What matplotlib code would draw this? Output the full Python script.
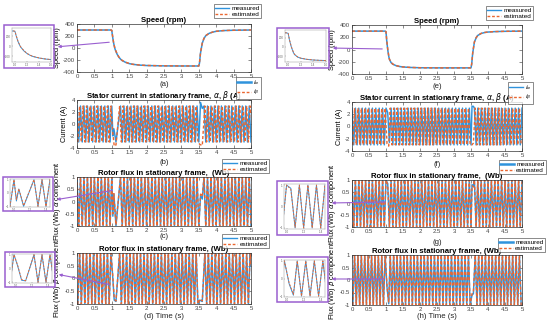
import matplotlib
matplotlib.use('Agg')
import matplotlib.pyplot as plt
from matplotlib.patches import Rectangle, FancyArrowPatch
from matplotlib.lines import Line2D

plt.rcParams['font.family'] = ['Liberation Sans', 'DejaVu Sans']
plt.rcParams['mathtext.fontset'] = 'dejavusans'

# ---------------- data ----------------
# speed, left column (a)
t_spd_L = [0, 0.5, 0.98, 1.0, 1.02, 1.05, 1.08, 1.1, 1.15, 1.2, 1.25, 1.3, 1.4, 1.5, 1.6, 1.8,
           2.0, 2.5, 3.0, 3.48, 3.5, 3.52, 3.55, 3.6, 3.65, 3.7, 3.8, 3.9, 4.0, 4.2, 4.5, 5.0]
spd_meas_L = [300, 300, 300, 290, 200, 90, 10, -30, -100, -150, -185, -210, -240, -260, -272, -285,
              -292, -298, -300, -300, -300, -250, -80, 80, 160, 205, 245, 265, 278, 290, 296, 300]
spd_est_L = [300, 300, 300, 295, 210, 95, 15, -25, -95, -148, -183, -208, -238, -258, -271, -284,
             -291, -297, -299, -300, -300, -245, -75, 85, 163, 207, 246, 266, 279, 290, 296, 300]

# speed, right column (e)
t_spd_R = [0, 0.5, 0.97, 1.0, 1.02, 1.05, 1.08, 1.1, 1.15, 1.2, 1.3, 1.4, 1.5, 1.7, 2.0, 2.5,
           3.0, 3.47, 3.5, 3.52, 3.55, 3.6, 3.65, 3.7, 3.8, 3.9, 4.0, 4.2, 4.5, 5.0]
spd_meas_R = [300, 300, 300, 290, 150, 0, -110, -160, -215, -240, -265, -278, -285, -293, -298, -300,
              -300, -300, -300, -240, -60, 120, 190, 230, 262, 277, 285, 292, 297, 300]
spd_est_R = [300, 300, 300, 292, 160, 10, -100, -155, -212, -238, -263, -277, -285, -292, -298, -300,
             -300, -300, -300, -235, -55, 125, 193, 232, 263, 278, 286, 292, 297, 300]

# turning points of the alpha / beta waveforms, left column (s)
ta_L = [0.00, 0.05, 0.10, 0.15, 0.20, 0.25, 0.30, 0.35, 0.40, 0.45, 0.50, 0.55, 0.60, 0.65, 0.70,
        0.75, 0.80, 0.85, 0.90, 0.95, 1.00,
        1.03, 1.06, 1.12,
        1.25, 1.30, 1.35, 1.40, 1.45, 1.50, 1.55, 1.60, 1.65, 1.70, 1.75, 1.80, 1.85, 1.90, 1.95,
        2.00, 2.05, 2.10, 2.15, 2.20, 2.25, 2.30, 2.35, 2.40, 2.45, 2.50, 2.55, 2.60, 2.65, 2.70,
        2.75, 2.80, 2.85, 2.90, 2.95, 3.00, 3.05, 3.10, 3.15, 3.20, 3.25, 3.30, 3.35, 3.40, 3.45, 3.50,
        3.55, 3.60,
        3.65, 3.70, 3.75, 3.80, 3.85, 3.90, 3.95, 4.00, 4.05, 4.10, 4.15, 4.20, 4.25, 4.30, 4.35,
        4.40, 4.45, 4.50, 4.55, 4.60, 4.65, 4.70, 4.75, 4.80, 4.85, 4.90, 4.95, 5.00]
tb_L = [0.025, 0.075, 0.125, 0.175, 0.225, 0.275, 0.325, 0.375, 0.425, 0.475, 0.525, 0.575, 0.625,
        0.675, 0.725, 0.775, 0.825, 0.875, 0.925, 0.975,
        1.02, 1.07, 1.12,
        1.225, 1.275, 1.325, 1.375, 1.425, 1.475, 1.525, 1.575, 1.625, 1.675, 1.725, 1.775, 1.825,
        1.875, 1.925, 1.975, 2.025, 2.075, 2.125, 2.175, 2.225, 2.275, 2.325, 2.375, 2.425, 2.475,
        2.525, 2.575, 2.625, 2.675, 2.725, 2.775, 2.825, 2.875, 2.925, 2.975, 3.025, 3.075, 3.125,
        3.175, 3.225, 3.275, 3.325, 3.375, 3.425, 3.475,
        3.53, 3.60,
        3.675, 3.725, 3.775, 3.825, 3.875, 3.925, 3.975, 4.025, 4.075, 4.125, 4.175, 4.225, 4.275,
        4.325, 4.375, 4.425, 4.475, 4.525, 4.575, 4.625, 4.675, 4.725, 4.775, 4.825, 4.875, 4.925,
        4.975, 5.0]

cur_a_L = [3, -3] * 10 + [3] + [-2.0, -0.8, -3.0] + [3, -3] * 23 + [3.6, 2.6] + [3, -3] * 14
cur_b_L = [-3, 3] * 10 + [-1.0, -3.7, -3.5] + [3, -3] * 23 + [-3.4, -3.6] + [3, -3] * 13 + [3, 1.5]
flux_a_meas_L = [1, -1] * 10 + [1] + [-0.6, 0.3, -1] + [1, -1] * 23 + [0.25, 0.1] + [1, -1] * 14
flux_a_est_L = [1, -1] * 10 + [1] + [-0.5, 0.32, -0.95] + [1, -1] * 23 + [0.3, 0.2] + [1, -1] * 14
flux_b_meas_L = [-1, 1] * 10 + [0.2, -0.85, -0.9] + [1, -1] * 23 + [-0.85, -0.9] + [1, -1] * 13 + [1, 0.5]
flux_b_est_L = [-1, 1] * 10 + [0.25, -0.8, -0.88] + [1, -1] * 23 + [-0.8, -0.88] + [1, -1] * 13 + [1, 0.5]

# turning points, right column (s)
ta_R = [0.00, 0.05, 0.10, 0.15, 0.20, 0.25, 0.30, 0.35, 0.40, 0.45, 0.50, 0.55, 0.60, 0.65, 0.70,
        0.75, 0.80, 0.85, 0.90, 0.95, 1.00,
        1.05, 1.10,
        1.15, 1.20, 1.25, 1.30, 1.35, 1.40, 1.45, 1.50, 1.55, 1.60, 1.65, 1.70, 1.75, 1.80, 1.85,
        1.90, 1.95, 2.00, 2.05, 2.10, 2.15, 2.20, 2.25, 2.30, 2.35, 2.40, 2.45, 2.50, 2.55, 2.60,
        2.65, 2.70, 2.75, 2.80, 2.85, 2.90, 2.95, 3.00, 3.05, 3.10, 3.15, 3.20, 3.25, 3.30, 3.35,
        3.40, 3.45, 3.50,
        3.53, 3.57,
        3.60, 3.65, 3.70, 3.75, 3.80, 3.85, 3.90, 3.95, 4.00, 4.05, 4.10, 4.15, 4.20, 4.25, 4.30,
        4.35, 4.40, 4.45, 4.50, 4.55, 4.60, 4.65, 4.70, 4.75, 4.80, 4.85, 4.90, 4.95, 5.00]
tb_R = [0.025, 0.075, 0.125, 0.175, 0.225, 0.275, 0.325, 0.375, 0.425, 0.475, 0.525, 0.575, 0.625,
        0.675, 0.725, 0.775, 0.825, 0.875, 0.925, 0.975,
        1.03, 1.08,
        1.125, 1.175, 1.225, 1.275, 1.325, 1.375, 1.425, 1.475, 1.525, 1.575, 1.625, 1.675, 1.725,
        1.775, 1.825, 1.875, 1.925, 1.975, 2.025, 2.075, 2.125, 2.175, 2.225, 2.275, 2.325, 2.375,
        2.425, 2.475, 2.525, 2.575, 2.625, 2.675, 2.725, 2.775, 2.825, 2.875, 2.925, 2.975, 3.025,
        3.075, 3.125, 3.175, 3.225, 3.275, 3.325, 3.375, 3.425, 3.475,
        3.53, 3.57,
        3.625, 3.675, 3.725, 3.775, 3.825, 3.875, 3.925, 3.975, 4.025, 4.075, 4.125, 4.175, 4.225,
        4.275, 4.325, 4.375, 4.425, 4.475, 4.525, 4.575, 4.625, 4.675, 4.725, 4.775, 4.825, 4.875,
        4.925, 4.975]

cur_a_R = [3, -3] * 10 + [3] + [2.3, -2.6] + [3, -3] * 24 + [3.3, 3.3] + [3, -3] * 14 + [3]
cur_b_R = [-3, 3] * 10 + [-2.8, -3.2] + [3, -3] * 24 + [-3.0, -2.7] + [3, -3] * 14
flux_a_meas_R = [1, -1] * 10 + [1] + [0.85, -1] + [1, -1] * 24 + [0.8, 0.75] + [1, -1] * 14 + [1]
flux_a_est_R = [1, -1] * 10 + [1] + [0.8, -0.97] + [1, -1] * 24 + [0.75, 0.7] + [1, -1] * 14 + [1]
flux_b_meas_R = [-1, 1] * 10 + [-0.3, -0.95] + [1, -1] * 24 + [-0.6, -0.55] + [1, -1] * 14
flux_b_est_R = [-1, 1] * 10 + [-0.25, -0.9] + [1, -1] * 24 + [-0.55, -0.5] + [1, -1] * 14

xticks = [0, 0.5, 1, 1.5, 2, 2.5, 3, 3.5, 4, 4.5, 5]
xtick_labels = ['0', '0.5', '1', '1.5', '2', '2.5', '3', '3.5', '4', '4.5', '5']
spd_ticks = [-400, -200, 0, 200, 400]
cur_ticks = [-4, -2, 0, 2, 4]
flux_ticks = [-1, -0.5, 0, 0.5, 1]
flux_tick_labels = ['-1', '-0.5', '0', '0.5', '1']

# ---------------- layout helpers ----------------
W, H = 550, 325
BLUE = '#2f93dc'
ORANGE = '#ea6630'
PURPLE = '#9a5fd0'

fig = plt.figure(figsize=(5.5, 3.25), dpi=100)


def box(x0, y0, x1, y1):
    return [x0 / W, 1 - y1 / H, (x1 - x0) / W, (y1 - y0) / H]


def fp(x, y):
    return (x / W, 1 - y / H)


def pair(t, v):
    n = min(len(t), len(v))
    return t[:n], v[:n]


def main_axes(rect, ylim, yticks, ylabels, title, ylabel):
    ax = fig.add_axes(box(*rect))
    ax.set_xlim(0, 5)
    ax.set_ylim(ylim)
    ax.set_xticks(xticks)
    ax.set_xticklabels(xtick_labels)
    ax.set_yticks(yticks)
    ax.set_yticklabels(ylabels)
    ax.tick_params(direction='in', length=2, width=0.4, labelsize=4.3, pad=1.5,
                   top=True, right=True, colors='#333333', labelcolor='#444444')
    for s in ax.spines.values():
        s.set_linewidth(0.5)
        s.set_color('#333333')
    ax.set_title(title, fontsize=5.6, fontweight='bold', pad=1.5)
    ax.set_ylabel(ylabel, fontsize=5.3, labelpad=1)
    return ax


def plot_pair(ax, t1, v1, t2, v2, lw=0.9):
    x, y = pair(t1, v1)
    ax.plot(x, y, color=BLUE, lw=lw)
    x, y = pair(t2, v2)
    ax.plot(x, y, color=ORANGE, lw=lw * 0.95, ls=(0, (2.2, 1.6)))


def legend(ax, labels, x0, y0, thick=False):
    h = [Line2D([], [], color=BLUE, lw=1.8 if thick else 1.0),
         Line2D([], [], color=ORANGE, lw=1.0, ls=(0, (2, 1.3)))]
    lg = ax.legend(h, labels, loc='upper left', bbox_to_anchor=fp(x0, y0),
                   bbox_transform=fig.transFigure, fontsize=4.6, frameon=True, fancybox=False,
                   borderpad=0.2, labelspacing=0.1, handlelength=2.2, handletextpad=0.3,
                   borderaxespad=0)
    lg.get_frame().set_edgecolor('#333333')
    lg.get_frame().set_linewidth(0.5)


def inset(frame, inner, xlim, ylim, xt, yt, t1, v1, t2, v2):
    fig.add_artist(Rectangle(fp(frame[0], frame[3]), (frame[2] - frame[0]) / W,
                             (frame[3] - frame[1]) / H, transform=fig.transFigure,
                             fill=False, edgecolor=PURPLE, lw=1.1))
    ia = fig.add_axes(box(*inner))
    plot_pair(ia, t1, v1, t2, v2, lw=0.7)
    ia.set_xlim(xlim)
    ia.set_ylim(ylim)
    ia.set_xticks(xt)
    ia.set_yticks(yt)
    ia.tick_params(direction='in', length=1, width=0.3, labelsize=2.2, pad=0.8,
                   colors='#777777', labelcolor='#666666')
    for s in ia.spines.values():
        s.set_linewidth(0.35)
        s.set_color('#999999')


def arrow(p_from, p_to):
    fig.add_artist(FancyArrowPatch(fp(*p_from), fp(*p_to), transform=fig.transFigure,
                                   arrowstyle='-|>', mutation_scale=4, color=PURPLE, lw=0.8))


def sublabel(x, y, s):
    fig.text(x / W, 1 - y / H, s, fontsize=5.6, ha='center', va='center', color='#222222')


# ---------------- left column ----------------
ax = main_axes((77, 24, 251, 72), (-400, 400), spd_ticks, spd_ticks, 'Speed (rpm)', 'Speed (rpm)')
plot_pair(ax, t_spd_L, spd_meas_L, t_spd_L, spd_est_L, lw=1.1)
legend(ax, ['measured', 'estimated'], 214, 4)
sublabel(164, 85, '(a)')

ax = main_axes((77, 100, 251, 148), (-4, 4), cur_ticks, cur_ticks,
               r'Stator current in stationary frame, $\alpha$, $\beta$ (A)', 'Current (A)')
plot_pair(ax, ta_L, cur_a_L, tb_L, cur_b_L, lw=1.05)
legend(ax, [r'$i_\alpha$', r'$i_\beta$'], 236, 77, thick=True)
sublabel(164, 162, '(b)')

ax = main_axes((77, 177, 251, 226), (-1, 1), flux_ticks, flux_tick_labels,
               'Rotor flux in stationary frame,  (Wb)', r'Flux (Wb) $\alpha$ component')
plot_pair(ax, ta_L, flux_a_meas_L, ta_L, flux_a_est_L, lw=1.05)
legend(ax, ['measured', 'estimated'], 222, 159)
sublabel(164, 236, '(c)')

ax = main_axes((77, 253, 251, 304), (-1, 1), flux_ticks, flux_tick_labels,
               'Rotor flux in stationary frame, (Wb)', r'Flux (Wb) $\beta$ component')
plot_pair(ax, tb_L, flux_b_meas_L, tb_L, flux_b_est_L, lw=1.05)
legend(ax, ['measured', 'estimated'], 222, 234)
sublabel(164, 316, '(d) Time (s)')

# ---------------- right column ----------------
ax = main_axes((352, 25, 522, 74), (-400, 400), spd_ticks, spd_ticks, 'Speed (rpm)', 'Speed (rpm)')
plot_pair(ax, t_spd_R, spd_meas_R, t_spd_R, spd_est_R, lw=1.1)
legend(ax, ['measured', 'estimated'], 486, 6)
sublabel(437, 87, '(e)')

ax = main_axes((352, 102, 522, 151), (-4, 4), cur_ticks, cur_ticks,
               r'Stator current in stationary frame, $\alpha$, $\beta$ (A)', 'Current (A)')
plot_pair(ax, ta_R, cur_a_R, tb_R, cur_b_R, lw=1.05)
legend(ax, [r'$i_\alpha$', r'$i_\beta$'], 508, 82)
sublabel(437, 165, '(f)')

ax = main_axes((352, 180, 522, 227), (-1, 1), flux_ticks, flux_tick_labels,
               'Rotor flux in stationary frame,  (Wb)', r'Flux (Wb) $\alpha$ component')
plot_pair(ax, ta_R, flux_a_meas_R, ta_R, flux_a_est_R, lw=1.05)
legend(ax, ['measured', 'estimated'], 499, 160, thick=True)
sublabel(437, 242, '(g)')

ax = main_axes((352, 255, 522, 305), (-1, 1), flux_ticks, flux_tick_labels,
               'Rotor flux in stationary frame, (Wb)', r'Flux (Wb) $\beta$ component')
plot_pair(ax, tb_R, flux_b_meas_R, tb_R, flux_b_est_R, lw=1.05)
legend(ax, ['measured', 'estimated'], 498, 238, thick=True)
sublabel(437, 316, '(h) Time (s)')

# ---------------- zoom insets ----------------
inset((4, 25, 54, 68), (12, 28, 51, 62), (0.95, 1.6), (-320, 360), [1.0, 1.2, 1.4, 1.6], [-200, 0, 200],
      t_spd_L, spd_meas_L, t_spd_L, spd_est_L)
arrow((112, 42), (55, 47))
inset((3, 177, 53, 211), (10, 179, 50, 207), (0.95, 1.45), (-1.05, 1.05), [1.0, 1.2, 1.4], [-1, 0, 1],
      ta_L, flux_a_meas_L, ta_L, flux_a_est_L)
arrow((115, 190), (54, 200))
inset((5, 252, 55, 287), (12, 254, 52, 283), (0.95, 1.45), (-1.05, 1.05), [1.0, 1.2, 1.4], [-1, 0, 1],
      tb_L, flux_b_meas_L, tb_L, flux_b_est_L)
arrow((112, 285), (56, 274))

inset((277, 28, 329, 68), (285, 30, 326, 62), (0.95, 1.6), (-320, 360), [1.0, 1.2, 1.4, 1.6], [-200, 0, 200],
      t_spd_R, spd_meas_R, t_spd_R, spd_est_R)
arrow((385, 49), (330, 48))
inset((277, 181, 328, 235), (284, 184, 325, 229), (0.97, 1.45), (-1.05, 1.05), [1.0, 1.2, 1.4], [-1, 0, 1],
      ta_R, flux_a_meas_R, ta_R, flux_a_est_R)
arrow((388, 202), (329, 203))
inset((277, 257, 328, 302), (284, 260, 325, 297), (0.97, 1.45), (-1.05, 1.05), [1.0, 1.2, 1.4], [-1, 0, 1],
      tb_R, flux_b_meas_R, tb_R, flux_b_est_R)
arrow((387, 279), (329, 279))

fig.savefig('out.png', dpi=100)
